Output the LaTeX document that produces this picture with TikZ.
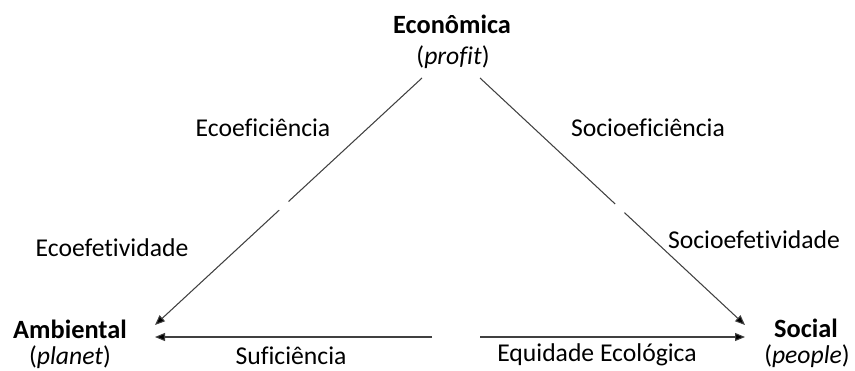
\documentclass[tikz,border=0pt]{standalone}
\usepackage{fontspec}
\setmainfont[Ligatures=NoCommon]{Carlito}
\usetikzlibrary{arrows.meta,calc}

\begin{document}
\begin{tikzpicture}[x=0.02cm,y=-0.02cm,
		label/.style={font=\fontsize{14.6}{18}\selectfont,inner sep=0pt},
		head/.style={label,font=\fontsize{15}{18}\selectfont\bfseries},
		edge/.style={black!75,line width=0.6pt},
		tip/.style={edge,-{Triangle[length=0.2cm,width=0.16cm,fill=black]}}]
			\useasboundingbox (0,0) rectangle (855,371);
			
			% vertices
			\node [head] (eco) at(452,24) {Econômica};
			\node [label] (ecoP) at(453,57) {(\textit{profit})};
			\node [head] (amb) at(70,329) {Ambiental};
			\node [label] (ambP) at(70,357) {(\textit{planet})};
			\node [head] (soc) at(806,328) {Social};
			\node [label] (socP) at(807,356) {(\textit{people})};
			
			% end points of the edges
			\coordinate (ecoL) at(422,78);
			\coordinate (ecoR) at(480,78);
			\coordinate (ambT) at(155,325);
			\coordinate (ambB) at(155,337);
			\coordinate (socT) at(745,325);
			\coordinate (socB) at(745,337);
			\coordinate (midL) at(432,337);
			\coordinate (midR) at(480,337);
			
			% left edge
			\draw [edge] (ecoL) -- ($(ecoL)!0.50!(ambT)$);
			\draw [tip] ($(ecoL)!0.535!(ambT)$) -- (ambT);
			\node [label] (ecoEf) at(263,128) {Ecoeficiência};
			\node [label] (ecoEt) at(112,248) {Ecoefetividade};
			
			% right edge
			\draw [edge] (ecoR) -- ($(ecoR)!0.51!(socT)$);
			\draw [tip] ($(ecoR)!0.545!(socT)$) -- (socT);
			\node [label] (socEf) at(648,128) {Socioeficiência};
			\node [label] (socEt) at(754,240) {Socioefetividade};
			
			% bottom edge
			\draw [tip] (midL) -- (ambB);
			\draw [tip] (midR) -- (socB);
			\node [label] (suf) at(291,356) {Suficiência};
			\node [label] (eqd) at(597,355) {Equidade Ecológica};
		\end{tikzpicture}
\end{document}
